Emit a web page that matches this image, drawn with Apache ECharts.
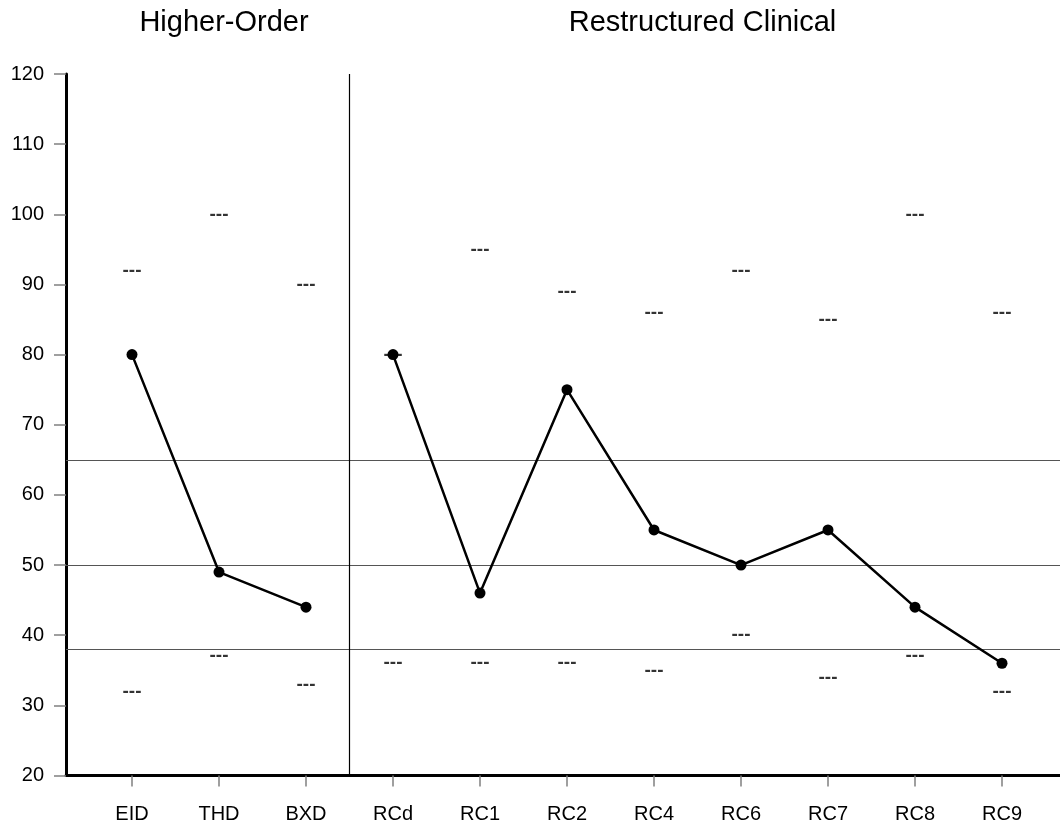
<!DOCTYPE html>
<html>
<head>
<meta charset="utf-8">
<script src="https://cdn.jsdelivr.net/npm/echarts@6/dist/echarts.min.js"></script>
<style>
html,body{margin:0;padding:0;background:#fff;}
#chart{width:1060px;height:828px;}
</style>
</head>
<body>
<div id="chart"></div>
<script>
// ---- data ----
const categories = ['EID','THD','BXD','RCd','RC1','RC2','RC4','RC6','RC7','RC8','RC9'];
const scores     = [80, 49, 44, 80, 46, 75, 55, 50, 55, 44, 36];
const upperMarks = [92, 100, 90, 80, 95, 89, 86, 92, 85, 100, 86];
const lowerMarks = [32, 37, 33, 36, 36, 36, 35, 40, 34, 37, 32];
const refLines   = [65, 50, 38];
const groupSplit = 2.5; // boundary between BXD and RCd
const groupTitles = ['Higher-Order', 'Restructured Clinical'];
const higherOrderCount = 3;
const yMin = 20, yMax = 120, yStep = 10;

const FONT = '"Liberation Sans", Arial, sans-serif';
const chart = echarts.init(document.getElementById('chart'), null, {renderer:'canvas'});

const hoData = scores.map((v,i)=> i < higherOrderCount ? v : '-');
const rcData = scores.map((v,i)=> i >= higherOrderCount ? v : '-');

const gridTop = 74, gridBottom = 52.5;
const step = 87;
const firstCenter = 132;
const plotLeft = 66, plotRight = 1060;
const vMin = (plotLeft - firstCenter) / step;
const vMax = (plotRight - firstCenter) / step;

const n = categories.length;
const hoCenter = firstCenter + step * (higherOrderCount - 1) / 2;
const rcCenter = firstCenter + step * (higherOrderCount + n - 1) / 2;

const dashLabel = {
  show: true, position: 'inside', formatter: '---',
  color: '#000', fontSize: 19, fontWeight: 'bold', fontFamily: FONT
};

chart.setOption({
  backgroundColor: '#fff',
  animation: false,
  title: [
    {text: groupTitles[0], left: hoCenter, top: 3, textAlign: 'center',
     textStyle: {fontFamily: FONT, fontSize: 29, fontWeight: 'normal', color: '#000'}},
    {text: groupTitles[1], left: rcCenter, top: 3, textAlign: 'center',
     textStyle: {fontFamily: FONT, fontSize: 29, fontWeight: 'normal', color: '#000'}}
  ],
  grid: [
    {left: plotLeft, right: 1060 - plotRight, top: gridTop, bottom: gridBottom, containLabel: false},
    {left: firstCenter - step/2, width: step*n, top: gridTop, bottom: gridBottom, containLabel: false}
  ],
  xAxis: [
    {type: 'value', gridIndex: 0, min: vMin, max: vMax,
     axisLine: {show: true, onZero: false, lineStyle: {color: '#000', width: 3}},
     axisTick: {show: false}, axisLabel: {show: false}, splitLine: {show: false}},
    {type: 'category', gridIndex: 1, data: categories, boundaryGap: true,
     axisLine: {show: false, onZero: false},
     axisTick: {show: true, alignWithLabel: true, length: 11, lineStyle: {color: '#808080', width: 1.5}},
     axisLabel: {color: '#000', fontSize: 20, fontFamily: FONT, margin: 29, interval: 0},
     splitLine: {show: false}}
  ],
  yAxis: [
    {type: 'value', gridIndex: 0, min: yMin, max: yMax, interval: yStep,
     axisLine: {show: true, onZero: false, lineStyle: {color: '#000', width: 3}},
     axisTick: {show: true, length: 12, lineStyle: {color: '#808080', width: 1.5}},
     axisLabel: {color: '#000', fontSize: 20, fontFamily: FONT, margin: 22},
     splitLine: {show: false}},
    {type: 'value', gridIndex: 1, min: yMin, max: yMax, interval: yStep, show: false,
     splitLine: {show: false}}
  ],
  series: [
    {type: 'line', xAxisIndex: 0, yAxisIndex: 0, data: [], silent: true, z: 1,
     markLine: {
       silent: true, symbol: 'none', label: {show: false},
       data: refLines.map(v => ({yAxis: v, lineStyle: {color: '#555', width: 1, type: 'solid'}}))
         .concat([{xAxis: groupSplit, lineStyle: {color: '#000', width: 1.2, type: 'solid'}}])
     }},
    {type: 'scatter', xAxisIndex: 1, yAxisIndex: 1, data: upperMarks, symbolSize: 1,
     itemStyle: {color: 'rgba(0,0,0,0)'}, label: dashLabel, z: 2, silent: true},
    {type: 'scatter', xAxisIndex: 1, yAxisIndex: 1, data: lowerMarks, symbolSize: 1,
     itemStyle: {color: 'rgba(0,0,0,0)'}, label: dashLabel, z: 2, silent: true},
    {type: 'line', xAxisIndex: 1, yAxisIndex: 1, data: hoData, connectNulls: false,
     symbol: 'circle', symbolSize: 11, showAllSymbol: true,
     lineStyle: {color: '#000', width: 2.5}, itemStyle: {color: '#000'}, z: 5},
    {type: 'line', xAxisIndex: 1, yAxisIndex: 1, data: rcData, connectNulls: false,
     symbol: 'circle', symbolSize: 11, showAllSymbol: true,
     lineStyle: {color: '#000', width: 2.5}, itemStyle: {color: '#000'}, z: 5}
  ]
});
</script>
</body>
</html>
